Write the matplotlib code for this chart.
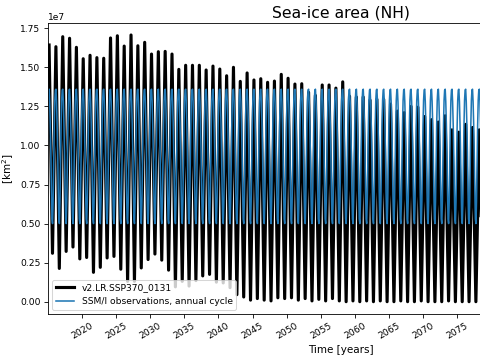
import matplotlib
matplotlib.use('Agg')
import matplotlib.pyplot as plt
from matplotlib.ticker import FixedLocator

# Model annual maxima / minima (1e6 km^2)
years = list(range(2015, 2080))
model_max = [16.43, 16.32, 16.96, 16.86, 16.28, 15.55, 15.77, 15.62, 15.58, 16.88,
             17.02, 16.36, 17.07, 16.38, 16.60, 15.85, 16.00, 16.02, 15.85, 14.87,
             15.13, 15.13, 15.13, 14.83, 15.08, 14.89, 14.46, 15.00, 14.10, 14.64,
             14.19, 14.27, 14.04, 14.12, 14.55, 14.30, 13.93, 13.95, 13.40, 13.20,
             13.87, 13.87, 13.67, 14.07, 13.15, 13.10, 13.10, 12.90, 12.95, 12.95,
             12.65, 12.20, 12.10, 12.50, 12.45, 11.85, 11.65, 11.50, 11.90, 11.00,
             10.85, 11.35, 11.15, 11.00, 11.00]
model_min = [3.10, 2.13, 3.22, 3.50, 2.74, 2.83, 1.88, 2.20, 2.80, 2.90,
             2.08, 1.30, 1.30, 2.16, 2.70, 3.05, 2.66, 2.02, 0.95, 1.30,
             1.00, 1.35, 1.65, 1.75, 1.25, 1.20, 0.90, 0.45, 0.30, 0.10,
             0.20, 0.10, 0.05, 0.25, 0.20, 0.25, 0.10, 0.20, 0.05, 0.15,
             0.05, 0.20, 0.05, 0.00, 0.05, 0.00, 0.05, 0.00, 0.05, 0.00,
             0.00, 0.05, 0.00, 0.00, 0.05, 0.00, 0.00, 0.00, 0.05, 0.00,
             0.00, 0.00, 0.00, 0.00, 0.00]
max_month_frac = 0.2
min_month_frac = 0.7

# SSM/I observed monthly climatology (1e6 km^2), Jan..Dec
obs_cycle = [12.90, 13.55, 13.60, 12.80, 11.40, 9.60, 7.20, 5.30, 5.00, 6.40, 9.00, 11.30]
obs_years = list(range(2015, 2101))

# x tick labels
xticks = [2020, 2025, 2030, 2035, 2040, 2045, 2050, 2055, 2060, 2065, 2070, 2075]

t_model, v_model = [], []
for y, hi, lo in zip(years, model_max, model_min):
    t_model += [y + max_month_frac, y + min_month_frac]
    v_model += [hi * 1e6, lo * 1e6]

t_obs, v_obs = [], []
for y in obs_years:
    for m, val in enumerate(obs_cycle):
        t_obs.append(y + (m + 0.5) / 12)
        v_obs.append(val * 1e6)

fig = plt.figure(figsize=(6.4, 4.8), dpi=75)
ax = fig.add_axes([0.0994, 0.127, 1.2235, 0.8083])
ax.plot(t_model, v_model, color='black', lw=3, label='v2.LR.SSP370_0131')
ax.plot(t_obs, v_obs, color='#1f77b4', lw=1.5, label='SSM/I observations, annual cycle')
ax.set_xlim(2015, 2101)
ax.set_ylim(-0.807e6, 17.82e6)
ax.xaxis.set_major_locator(FixedLocator(xticks))
ax.set_title('Sea-ice area (NH)', fontsize=15)
ax.set_xlabel('Time [years]', fontsize=10)
ax.set_ylabel('[km$^2$]', fontsize=10)
ax.tick_params(labelsize=8.8)
for lab in ax.get_xticklabels():
    lab.set_rotation(30)
ax.yaxis.get_offset_text().set_fontsize(8.8)
ax.legend(loc='lower left', fontsize=8.8)
fig.savefig('out.png', dpi=75)
